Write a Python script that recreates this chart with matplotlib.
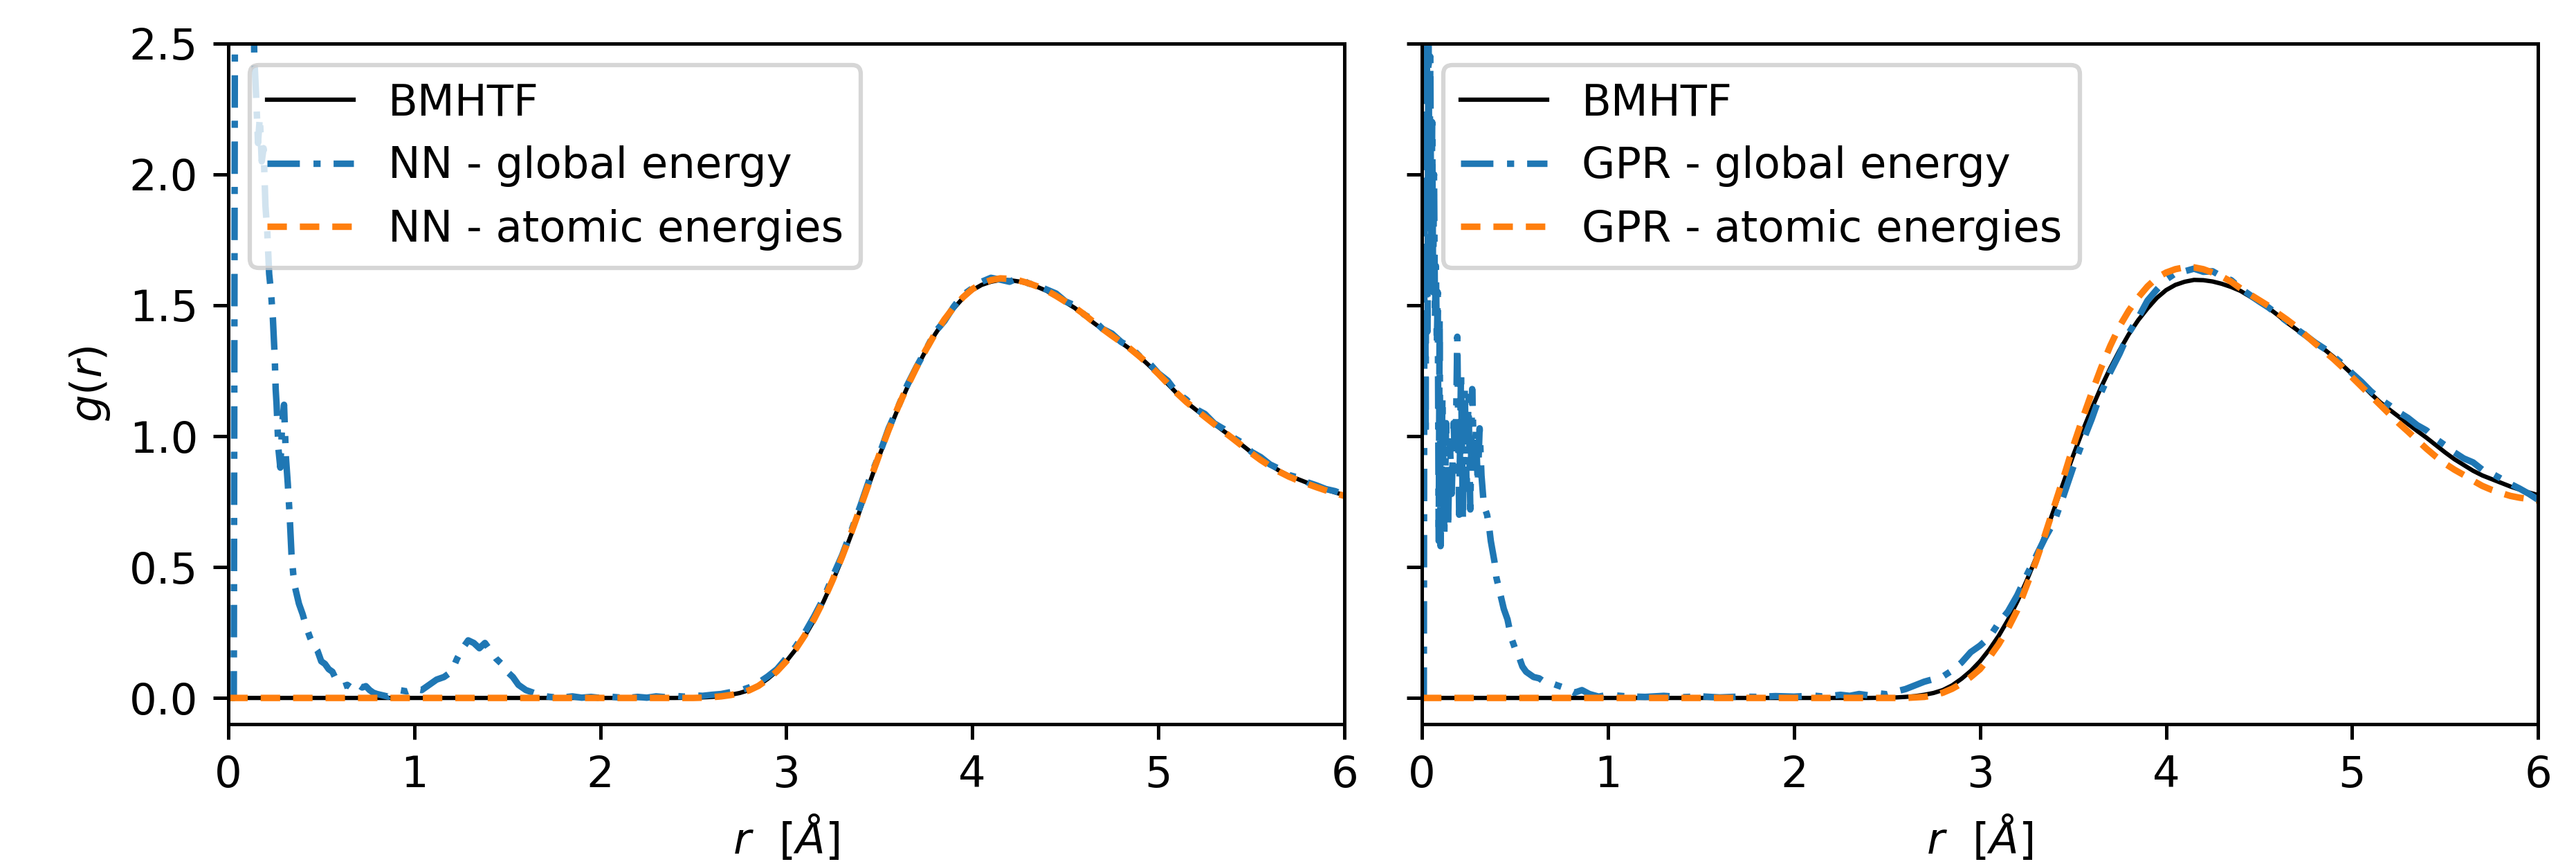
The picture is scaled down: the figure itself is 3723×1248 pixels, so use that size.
import numpy as np
import matplotlib
matplotlib.use("Agg")
import matplotlib.pyplot as plt

# ---- BMHTF reference g(r) (same curve in both panels) ----
bmhtf_r = [0.0, 1.0, 2.0, 2.4] + list(np.round(np.arange(2.5, 6.001, 0.05), 2))
bmhtf_g = [0.0, 0.0, 0.0, 0.0,
           0.001, 0.002, 0.004, 0.007, 0.012, 0.019, 0.030, 0.048, 0.073, 0.103,
           0.140, 0.185, 0.237, 0.298, 0.368, 0.447, 0.533, 0.626, 0.725, 0.826,
           0.925, 1.018, 1.105, 1.186, 1.260, 1.328, 1.390, 1.443, 1.488, 1.528,
           1.558, 1.578, 1.590, 1.597, 1.596, 1.591, 1.582, 1.570, 1.555,
           1.534, 1.512, 1.490, 1.463, 1.434, 1.408, 1.382, 1.357, 1.332, 1.303,
           1.270, 1.237, 1.200, 1.163, 1.130, 1.102, 1.075, 1.047, 1.020, 0.994,
           0.966, 0.938, 0.912, 0.890, 0.868, 0.850, 0.836, 0.822, 0.808, 0.796,
           0.785, 0.775]

# ---- NN - atomic energies ----
nn_atomic_r = [0.0, 1.0, 2.0, 2.45] + list(np.round(np.arange(2.5, 6.001, 0.05), 2))
nn_atomic_g = [0.0, 0.0, 0.0, 0.0,
               0.000, 0.001, 0.003, 0.006, 0.011, 0.018, 0.029, 0.046, 0.071, 0.102,
               0.140, 0.186, 0.240, 0.302, 0.372, 0.452, 0.540, 0.633, 0.732, 0.832,
               0.930, 1.024, 1.110, 1.190, 1.263, 1.330, 1.392, 1.446, 1.492, 1.531,
               1.562, 1.583, 1.596, 1.603, 1.601, 1.595, 1.585, 1.572, 1.556,
               1.536, 1.514, 1.492, 1.466, 1.437, 1.410, 1.384, 1.359, 1.333, 1.304,
               1.272, 1.238, 1.201, 1.164, 1.131, 1.102, 1.074, 1.046, 1.018, 0.991,
               0.963, 0.935, 0.909, 0.886, 0.864, 0.846, 0.831, 0.818, 0.805, 0.793,
               0.782, 0.772]

# ---- NN - global energy ----
nn_global_r = [0.0, 0.03, 0.036, 0.05, 0.09, 0.12, 0.14, 0.15, 0.16, 0.17, 0.18,
               0.19, 0.20, 0.21, 0.22, 0.23, 0.24, 0.25, 0.255, 0.26, 0.27, 0.28,
               0.29, 0.30, 0.31, 0.32, 0.33, 0.34, 0.35, 0.36, 0.38, 0.40, 0.42,
               0.44, 0.46, 0.48, 0.50, 0.52, 0.54, 0.56, 0.58, 0.60, 0.62, 0.64,
               0.66, 0.68, 0.70, 0.72, 0.74, 0.76, 0.78, 0.80, 0.83, 0.86, 0.89,
               0.92, 0.96, 1.00, 1.04, 1.08, 1.12, 1.16, 1.20, 1.23, 1.26, 1.29,
               1.32, 1.35, 1.38, 1.41, 1.44, 1.47, 1.50, 1.53, 1.56, 1.60, 1.64,
               1.68, 1.72, 1.76] + list(np.round(np.arange(1.8, 6.001, 0.05), 2))
nn_global_g = [0.0, 0.0, 2.7, 4.5, 5.0, 3.5, 2.45, 2.30, 2.12, 2.22, 2.05,
               2.10, 1.88, 1.78, 1.62, 1.55, 1.45, 1.30, 1.18, 1.12, 0.95, 0.88,
               1.05, 1.12, 0.92, 0.82, 0.70, 0.55, 0.47, 0.42, 0.36, 0.32, 0.27,
               0.23, 0.20, 0.18, 0.14, 0.13, 0.11, 0.10, 0.07, 0.06, 0.045, 0.05,
               0.04, 0.055, 0.05, 0.04, 0.045, 0.03, 0.02, 0.015, 0.01, 0.005, 0.02,
               0.03, 0.025, 0.035, 0.03, 0.05, 0.07, 0.08, 0.10, 0.15, 0.19, 0.22,
               0.21, 0.19, 0.21, 0.18, 0.15, 0.13, 0.10, 0.08, 0.05, 0.03, 0.02,
               0.01, 0.005, 0.002,
               0.002, 0.006, 0.001, 0.004, 0.000, 0.005, 0.002, 0.000, 0.004, 0.001,
               0.006, 0.003, 0.008, 0.005,
               0.010, 0.008, 0.012, 0.015, 0.022, 0.028, 0.040, 0.058, 0.082, 0.110,
               0.152, 0.196, 0.250, 0.312, 0.380, 0.465, 0.545, 0.640, 0.738, 0.842,
               0.930, 1.030, 1.110, 1.195, 1.265, 1.330, 1.398, 1.440, 1.495, 1.540,
               1.565, 1.590, 1.605, 1.598, 1.590, 1.605, 1.584, 1.575, 1.560,
               1.545, 1.515, 1.500, 1.465, 1.445, 1.410, 1.392, 1.360, 1.340, 1.305,
               1.280, 1.240, 1.212, 1.165, 1.140, 1.104, 1.085, 1.049, 1.028, 0.996,
               0.975, 0.940, 0.920, 0.892, 0.875, 0.852, 0.842, 0.824, 0.812, 0.798,
               0.790, 0.776]

# ---- GPR - global energy ----
gpr_global_r = [0.0, 0.010, 0.015, 0.020, 0.025, 0.030, 0.035, 0.040, 0.045, 0.050,
                0.055, 0.060, 0.065, 0.070, 0.075, 0.080, 0.085, 0.090, 0.095, 0.100,
                0.11, 0.12, 0.13, 0.14, 0.15, 0.16, 0.17, 0.18, 0.19, 0.20, 0.21,
                0.22, 0.23, 0.24, 0.25, 0.26, 0.27, 0.28, 0.29, 0.30, 0.31, 0.32,
                0.33, 0.34, 0.35, 0.36, 0.37, 0.38, 0.39, 0.40, 0.42, 0.44, 0.46,
                0.48, 0.50, 0.52, 0.54, 0.56, 0.58, 0.60, 0.63, 0.66, 0.70, 0.74,
                0.78, 0.82, 0.86, 0.90, 0.95, 1.00, 1.10, 1.20, 1.30, 1.40, 1.50,
                1.60, 1.70, 1.80, 1.90, 2.00, 2.10, 2.15] \
    + list(np.round(np.arange(2.2, 6.001, 0.05), 2))
gpr_global_g = [0.0, 0.0, 2.7, 1.0, 2.9, 1.4, 2.6, 1.9, 2.45, 1.6,
                2.2, 1.55, 2.0, 1.45, 1.65, 1.35, 1.55, 0.60, 1.45, 0.58,
                1.15, 0.62, 1.05, 0.65, 0.98, 0.78, 1.05, 0.88, 1.38, 0.70, 1.25,
                0.68, 1.18, 0.80, 1.15, 0.72, 1.18, 0.90, 1.02, 0.82, 1.03, 0.85,
                0.76, 0.72, 0.70, 0.66, 0.60, 0.56, 0.52, 0.46, 0.40, 0.34, 0.30,
                0.23, 0.19, 0.16, 0.12, 0.10, 0.09, 0.08, 0.075, 0.06, 0.055, 0.045,
                0.035, 0.02, 0.03, 0.015, 0.005, 0.012, 0.006, 0.004, 0.008, 0.003, 0.006,
                0.002, 0.005, 0.004, 0.007, 0.005, 0.009, 0.006,
                0.008, 0.012, 0.008, 0.015, 0.010, 0.018, 0.014, 0.025, 0.034, 0.048,
                0.062, 0.072, 0.082, 0.105, 0.135, 0.175,
                0.200, 0.232, 0.286, 0.330, 0.392, 0.468, 0.540, 0.612, 0.675, 0.775,
                0.880, 0.975, 1.065, 1.165, 1.245, 1.315, 1.395, 1.452, 1.518, 1.560,
                1.598, 1.622, 1.630, 1.640, 1.628, 1.630, 1.610, 1.596, 1.565, 1.540,
                1.515, 1.492, 1.465, 1.438, 1.410, 1.385, 1.358, 1.335, 1.305, 1.275,
                1.240, 1.208, 1.172, 1.142, 1.118, 1.092, 1.070, 1.042, 1.022, 0.990,
                0.965, 0.938, 0.915, 0.900, 0.872, 0.858, 0.838, 0.818, 0.800, 0.780,
                0.757]

# ---- GPR - atomic energies ----
gpr_atomic_r = [0.0, 1.0, 2.0, 2.6, 2.7] + list(np.round(np.arange(2.75, 6.001, 0.05), 2))
gpr_atomic_g = [0.0, 0.0, 0.0, 0.0, 0.004,
                0.010, 0.020, 0.035, 0.055, 0.080,
                0.110, 0.155, 0.205, 0.265, 0.335, 0.428, 0.520, 0.625, 0.735, 0.845,
                0.960, 1.065, 1.165, 1.260, 1.345, 1.420, 1.480, 1.530, 1.572, 1.605,
                1.625, 1.638, 1.645, 1.645, 1.638, 1.625, 1.610, 1.590, 1.565, 1.542,
                1.520, 1.498, 1.470, 1.445, 1.418, 1.386, 1.355, 1.325, 1.295, 1.262,
                1.225, 1.190, 1.155, 1.120, 1.085, 1.050, 1.018, 0.985, 0.952, 0.922,
                0.895, 0.872, 0.852, 0.830, 0.810, 0.795, 0.783, 0.772, 0.765, 0.760,
                0.754]

panels = [
    ("NN", nn_global_r, nn_global_g, nn_atomic_r, nn_atomic_g),
    ("GPR", gpr_global_r, gpr_global_g, gpr_atomic_r, gpr_atomic_g),
]

fig = plt.figure(figsize=(3723 / 450, 1248 / 450), dpi=450)
ax_left = fig.add_axes([0.0886, 0.1619, 0.4333, 0.7877])
ax_right = fig.add_axes([0.552, 0.1619, 0.4333, 0.7877], sharey=ax_left)

for ax, (name, gr, gg, ar, ag) in zip([ax_left, ax_right], panels):
    ax.plot(bmhtf_r, bmhtf_g, color="black", lw=1.0, label="BMHTF")
    ax.plot(gr, gg, color="C0", lw=1.5, linestyle=(0, (5.0, 2.1, 1.1, 2.0)),
            label=f"{name} - global energy")
    ax.plot(ar, ag, color="C1", lw=1.5, linestyle=(0, (3.0, 2.0)),
            label=f"{name} - atomic energies")
    ax.set_xlim(0, 6)
    ax.set_ylim(-0.1, 2.5)
    ax.set_xlabel(r"$r\ \ [\AA]$")
    ax.legend(loc="upper left")

ax_left.set_ylabel(r"$g(r)$")
ax_left.set_yticks([0.0, 0.5, 1.0, 1.5, 2.0, 2.5])
plt.setp(ax_right.get_yticklabels(), visible=False)

fig.savefig("out.png", dpi=450)
